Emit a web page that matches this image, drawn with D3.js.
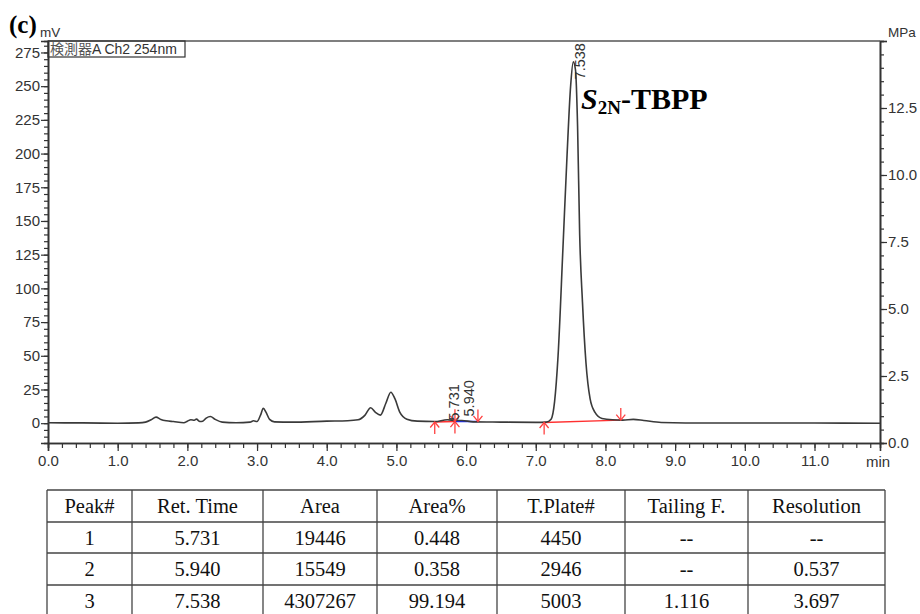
<!DOCTYPE html>
<html>
<head>
<meta charset="utf-8">
<script src="https://cdn.jsdelivr.net/npm/d3@7"></script>
<style>
  body { margin: 0; background: #fff; }
  svg text { font-family: "Liberation Sans", Arial, sans-serif; }
</style>
</head>
<body>
<svg id="chart" width="920" height="614"></svg>
<script>
// chromatogram trace (min, mV)
var retTime = [0.0, 0.5, 1.0, 1.3, 1.4, 1.48, 1.55, 1.62, 1.7, 1.8, 1.95, 2.0, 2.05, 2.1, 2.13, 2.18, 2.22, 2.27, 2.33, 2.4, 2.5, 2.7, 2.9, 2.95, 3.0, 3.05, 3.09, 3.13, 3.18, 3.25, 3.5, 4.0, 4.3, 4.45, 4.55, 4.63, 4.7, 4.77, 4.85, 4.92, 4.98, 5.05, 5.15, 5.3, 5.55, 5.73, 5.85, 5.94, 6.1, 6.5, 7.0, 7.15, 7.22, 7.27, 7.32, 7.39, 7.45, 7.5, 7.538, 7.57, 7.6, 7.63, 7.67, 7.72, 7.78, 7.85, 7.95, 8.1, 8.25, 8.4, 8.55, 8.8, 9.5, 11.0, 11.94];
var signal  = [0.3, 0.2, 0.0, 0.2, 0.8, 2.5, 4.5, 2.8, 1.8, 1.2, 0.3, 1.5, 2.6, 2.2, 3.0, 1.2, 1.5, 3.8, 5.0, 2.8, 0.8, 0.3, 0.8, 1.8, 1.2, 6, 11, 8, 2.8, 1.0, 0.8, 1.5, 1.8, 2.5, 6, 11.5, 8, 6, 15, 23, 18, 8, 3, 1.5, 1.2, 2.5, 2.0, 2.0, 1.0, 0.8, 0.6, 0.8, 3, 16, 50, 130, 200, 250, 268, 262, 220, 140, 90, 45, 18, 8, 3.5, 2.5, 2.3, 2.8, 2.0, 0.5, 0.1, 0.1, 0.0];

// integrated peaks
var peakTimes  = [5.731, 5.940, 7.538];
var peakLabels = ["5.731", "5.940", "7.538"];
var labelLevel = [2, 5, 255];

// integration baselines [start min, start mV, end min, end mV]
var baselines = [[5.55, 0.9, 5.84, 1.2], [5.84, 1.2, 6.17, 1.3], [7.12, 0.5, 8.22, 2.3]];
var upMarks   = [[5.55, 0.9], [5.84, 1.2], [7.12, 0.5]];
var downMarks = [[5.84, 1.4], [6.17, 1.3], [8.22, 2.3]];

// ticks
var xMajor = [0, 1, 2, 3, 4, 5, 6, 7, 8, 9, 10, 11];
var mvMajor = [0, 25, 50, 75, 100, 125, 150, 175, 200, 225, 250, 275];
var mpaMajor = [0, 2.5, 5, 7.5, 10, 12.5, 15];

// table
var tableHead = ["Peak#", "Ret. Time", "Area", "Area%", "T.Plate#", "Tailing F.", "Resolution"];
var tableRows = [
  ["1", "5.731", "19446", "0.448", "4450", "--", "--"],
  ["2", "5.940", "15549", "0.358", "2946", "--", "0.537"],
  ["3", "7.538", "4307267", "99.194", "5003", "1.116", "3.697"]
];

var svg = d3.select("#chart");
var L = 48, R = 880, T = 41, B = 443;
var ink = "#333";

var x = d3.scaleLinear().domain([0, 11.94]).range([L, R]);
var y = d3.scaleLinear().domain([-14.7, 283.5]).range([B, T]);
var y2 = d3.scaleLinear().domain([0, 15]).range([B, T]);

function styleAxis(g) {
  g.select(".domain").attr("stroke", ink).attr("stroke-width", 1.6);
  g.selectAll(".tick line").attr("stroke", ink).attr("stroke-width", 1.2);
  g.selectAll(".tick text").attr("fill", ink).style("font-size", "15px").style("font-family", "Liberation Sans, Arial, sans-serif");
}

// minor ticks first
svg.append("g").attr("transform", "translate(" + L + ",0)")
  .call(d3.axisLeft(y).tickValues(d3.range(-10, 281, 5)).tickSize(4).tickFormat(""))
  .call(styleAxis);
svg.append("g").attr("transform", "translate(" + R + ",0)")
  .call(d3.axisRight(y2).tickValues(d3.range(0, 15.01, 0.5)).tickSize(4).tickFormat(""))
  .call(styleAxis);
svg.append("g").attr("transform", "translate(0," + B + ")")
  .call(d3.axisBottom(x).tickValues(d3.range(0, 11.9, 0.2)).tickSize(5).tickFormat(""))
  .call(styleAxis);

// major ticks
svg.append("g").attr("transform", "translate(" + L + ",0)")
  .call(d3.axisLeft(y).tickValues(mvMajor).tickSize(7).tickPadding(1).tickFormat(d3.format("d")))
  .call(styleAxis);
svg.append("g").attr("transform", "translate(" + R + ",0)")
  .call(d3.axisRight(y2).tickValues(mpaMajor).tickSize(7).tickPadding(1)
    .tickFormat(function(d) { return d === 15 ? "" : d3.format(".1f")(d); }))
  .call(styleAxis);
svg.append("g").attr("transform", "translate(0," + B + ")")
  .call(d3.axisBottom(x).tickValues(xMajor).tickSize(8).tickPadding(4).tickFormat(d3.format(".1f")))
  .call(styleAxis);

// top frame
svg.append("line").attr("x1", L).attr("x2", R).attr("y1", T).attr("y2", T)
  .attr("stroke", "#555").attr("stroke-width", 1.4);

// unit labels
svg.append("text").attr("x", 9).attr("y", 33).text("(c)")
  .style("font-family", "Liberation Serif, serif").style("font-weight", "bold").style("font-size", "25px").attr("fill", "#000");
svg.append("text").attr("x", 40).attr("y", 37).text("mV").style("font-size", "13.5px").attr("fill", ink);
svg.append("text").attr("x", 888).attr("y", 37).text("MPa").style("font-size", "13.5px").attr("fill", ink);
svg.append("text").attr("x", 866).attr("y", 467).text("min").style("font-size", "15px").attr("fill", ink);

// detector box
var det = svg.append("text").attr("x", 50).attr("y", 54).attr("fill", ink).style("font-size", "14px");
det.append("tspan").text("検測器").style("font-family", "Noto Sans CJK JP").attr("fill", "#555");
det.append("tspan").text("A Ch2 254nm");
svg.append("rect").attr("x", L).attr("y", T).attr("width", 137).attr("height", 16)
  .attr("fill", "none").attr("stroke", ink).attr("stroke-width", 1.2);

// baselines
svg.append("g").selectAll("line").data(baselines).enter().append("line")
  .attr("x1", function(d) { return x(d[0]); }).attr("y1", function(d) { return y(d[1]); })
  .attr("x2", function(d) { return x(d[2]); }).attr("y2", function(d) { return y(d[3]); })
  .attr("stroke", function(d, i) { return i === 1 ? "#1a2cff" : "#ff3030"; })
  .attr("stroke-width", 1.4);

// trace
var pts = retTime.map(function(t, i) { return [t, signal[i]]; });
var line = d3.line().x(function(d) { return x(d[0]); }).y(function(d) { return y(d[1]); }).curve(d3.curveMonotoneX);
svg.append("path").datum(pts).attr("d", line)
  .attr("fill", "none").attr("stroke", "#3a3a3a").attr("stroke-width", 1.6);

// integration arrows
var red = "#ff4040";
function arrow(g, px, py, dir) {
  var len = 12 * dir;
  g.append("line").attr("x1", px).attr("y1", py).attr("x2", px).attr("y2", py + len);
  g.append("path").attr("d", "M" + (px - 4.5) + "," + (py + 5.5 * dir) + "L" + px + "," + py + "L" + (px + 4.5) + "," + (py + 5.5 * dir))
    .attr("fill", "none");
}
var ag = svg.append("g").attr("stroke", red).attr("stroke-width", 1.3);
upMarks.forEach(function(d) { arrow(ag, x(d[0]), y(d[1]), 1); });
downMarks.forEach(function(d) { arrow(ag, x(d[0]), y(d[1]), -1); });

// peak labels
svg.append("g").selectAll("text").data(peakTimes).enter().append("text")
  .attr("transform", function(d, i) { return "translate(" + (x(d) + 12) + "," + y(labelLevel[i]) + ") rotate(-90)"; })
  .text(function(d, i) { return peakLabels[i]; })
  .attr("fill", ink).style("font-size", "14.5px");

// compound label
var cl = svg.append("text").attr("x", 581).attr("y", 109).attr("fill", "#000")
  .style("font-family", "Liberation Serif, serif").style("font-weight", "bold").style("font-size", "30px");
cl.append("tspan").text("S").style("font-style", "italic");
cl.append("tspan").text("2N").attr("dy", 5).style("font-size", "19px");
cl.append("tspan").text("-TBPP").attr("dy", -5);

// table
var colX = [47, 132, 263, 377, 497, 625, 748, 885];
var rowY = [490, 522, 553, 585, 616];
var tg = svg.append("g").attr("stroke", "#444").attr("stroke-width", 1.3);
rowY.forEach(function(ry) { tg.append("line").attr("x1", colX[0]).attr("x2", colX[7]).attr("y1", ry).attr("y2", ry); });
colX.forEach(function(cx) { tg.append("line").attr("x1", cx).attr("x2", cx).attr("y1", rowY[0]).attr("y2", rowY[4]); });
var allRows = [tableHead].concat(tableRows);
var rowG = svg.append("g").selectAll("g").data(allRows).enter().append("g");
rowG.selectAll("text").data(function(r, ri) { return r.map(function(c) { return [c, ri]; }); }).enter().append("text")
  .attr("x", function(d, ci) { return (colX[ci] + colX[ci + 1]) / 2; })
  .attr("y", function(d) { return (rowY[d[1]] + rowY[d[1] + 1]) / 2 + 7; })
  .attr("text-anchor", "middle").text(function(d) { return d[0]; })
  .attr("fill", "#111").style("font-family", "Liberation Serif, serif").style("font-size", "20.5px");
</script>
</body>
</html>
